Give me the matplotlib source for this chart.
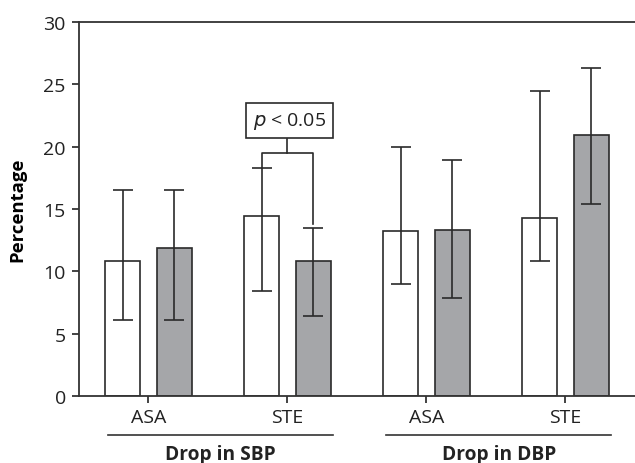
import numpy as np
import matplotlib.pyplot as plt
import matplotlib.transforms as mtransforms

plt.rcParams['font.family'] = ['Open Sans', 'DejaVu Sans']

# data
categories = ["ASA", "STE", "ASA", "STE"]
groups = ["Drop in SBP", "Drop in DBP"]
white_vals = [10.8, 14.4, 13.2, 14.3]
white_hi = [16.5, 18.3, 20.0, 24.5]
white_lo = [6.1, 8.4, 9.0, 10.8]
grey_vals = [11.9, 10.8, 13.3, 20.9]
grey_hi = [16.5, 13.5, 18.9, 26.3]
grey_lo = [6.1, 6.4, 7.9, 15.4]

edge = "#2a2a2a"
grey = "#a5a6a9"
width = 0.247
off = 0.187

fig = plt.figure(figsize=(6.35, 4.64), dpi=100)
ax = fig.add_axes([0.1244, 0.1444, 0.8756, 0.806])

x = np.arange(len(categories))
err_kw = dict(ecolor=edge, elinewidth=1.2, capsize=7, capthick=1.2)
ax.bar(x - off, white_vals, width, color="white", edgecolor=edge, linewidth=1.2,
       yerr=[np.array(white_vals) - np.array(white_lo), np.array(white_hi) - np.array(white_vals)],
       error_kw=err_kw, zorder=2)
ax.bar(x + off, grey_vals, width, color=grey, edgecolor=edge, linewidth=1.2,
       yerr=[np.array(grey_vals) - np.array(grey_lo), np.array(grey_hi) - np.array(grey_vals)],
       error_kw=err_kw, zorder=2)

ax.set_xlim(-0.5, 3.5)
ax.set_ylim(0, 30)
ax.set_yticks(range(0, 31, 5))
ax.set_xticks(x)
ax.set_xticklabels(categories)
ax.tick_params(axis='both', labelsize=14, colors="#222222", length=5, width=1.2, direction='out')
ax.tick_params(axis='y', pad=4.5)
ax.tick_params(axis='x', pad=3.5)
for s in ["left", "top", "bottom"]:
    ax.spines[s].set_color("#333333")
    ax.spines[s].set_linewidth(1.3)
ax.spines["right"].set_visible(False)
ax.set_ylabel("Percentage", fontsize=13.3, fontweight='bold')
ax.yaxis.set_label_coords(-0.094, 0.5)

# significance bracket on SBP / STE
bx_l, bx_r = 1 - off, 1 + off
ytop = 19.5
ax.plot([bx_l, bx_l, bx_r, bx_r], [white_hi[1], ytop, ytop, grey_hi[1] + 0.3],
        color=edge, lw=1.2, zorder=3)
ax.plot([1.0, 1.0], [ytop, 20.6], color=edge, lw=1.2, zorder=3)
ax.text(1.017, 22.1, "$\\it{p}$ < 0.05", fontsize=14, ha='center', va='center', color="#222222",
        bbox=dict(boxstyle='square,pad=0.35', facecolor='white', edgecolor=edge, linewidth=1.2))

# group lines and labels under the axis
trans = mtransforms.blended_transform_factory(ax.transData, ax.transAxes)
for gi, g in enumerate(groups):
    left = 2 * gi - off - width / 2 + 0.02
    right = 2 * gi + 1 + off + width / 2 + 0.02
    ax.plot([left, right], [-0.105, -0.105], color="#333333", lw=1.2,
            transform=trans, clip_on=False)
    ax.text((left + right) / 2, -0.155, g, transform=trans, ha='center', va='center',
            fontsize=13.8, fontweight='bold', color="#222222")

plt.savefig("out.png", dpi=100)
